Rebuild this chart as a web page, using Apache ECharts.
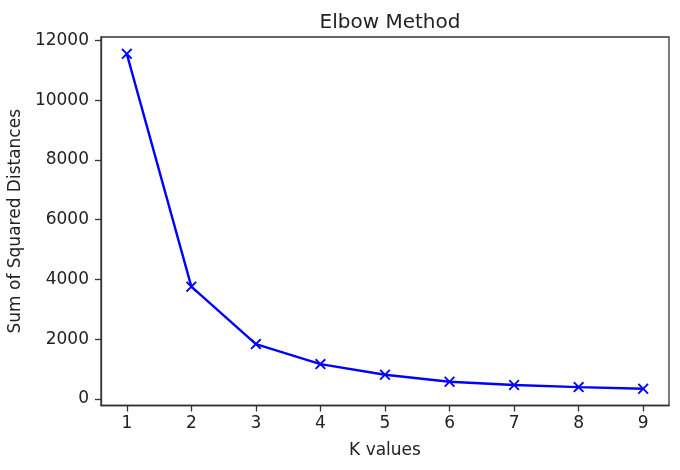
<!DOCTYPE html>
<html>
<head>
<meta charset="utf-8">
<script src="https://cdn.jsdelivr.net/npm/echarts@6/dist/echarts.min.js"></script>
<style>html,body{margin:0;padding:0;background:#fff}#c{width:680px;height:470px}</style>
</head>
<body>
<div id="c"></div>
<script>
var kValues = [1, 2, 3, 4, 5, 6, 7, 8, 9];
var sse = [11550, 3760, 1840, 1170, 812, 580, 470, 400, 345];
var xTicks = [1, 2, 3, 4, 5, 6, 7, 8, 9];
var yTicks = [0, 2000, 4000, 6000, 8000, 10000, 12000];

var chart = echarts.init(document.getElementById('c'), null, {renderer: 'canvas'});
var font = 'DejaVu Sans';
var xMark = 'path://M0,1.2L1.2,0L5,3.8L8.8,0L10,1.2L6.2,5L10,8.8L8.8,10L5,6.2L1.2,10L0,8.8L3.8,5Z';
chart.setOption({
  animation: false,
  backgroundColor: '#ffffff',
  title: {
    text: 'Elbow Method',
    left: 385, top: 8, textAlign: 'center',
    textStyle: {fontFamily: font, fontSize: 20, fontWeight: 'normal', color: '#222'}
  },
  grid: {
    left: 101, top: 37, right: 11, bottom: 64.5,
    containLabel: false, outerBoundsMode: 'none',
    show: true, borderColor: '#333', borderWidth: 1.3, backgroundColor: 'transparent'
  },
  xAxis: {
    type: 'value', min: 0.6, max: 9.4,
    name: 'K values', nameLocation: 'middle', nameGap: 37,
    nameTextStyle: {fontFamily: font, fontSize: 17, color: '#222'},
    axisLine: {show: true, onZero: false, lineStyle: {color: '#333', width: 1.3}},
    axisTick: {show: true, length: 6, lineStyle: {color: '#333', width: 1.3}, customValues: xTicks},
    axisLabel: {fontFamily: font, fontSize: 17, color: '#222', margin: 10, customValues: xTicks,
      formatter: function (v) { return String(v); }},
    splitLine: {show: false}
  },
  yAxis: {
    type: 'value', min: -215, max: 12114,
    name: 'Sum of Squared Distances', nameLocation: 'middle', nameGap: 71, nameRotate: 90,
    nameTextStyle: {fontFamily: font, fontSize: 17, color: '#222'},
    axisLine: {show: true, onZero: false, lineStyle: {color: '#333', width: 1.3}},
    axisTick: {show: true, length: 6, lineStyle: {color: '#333', width: 1.3}, customValues: yTicks},
    axisLabel: {fontFamily: font, fontSize: 17, color: '#222', margin: 12, customValues: yTicks,
      formatter: function (v) { return String(v); }},
    splitLine: {show: false}
  },
  series: [{
    type: 'line',
    data: kValues.map(function (k, i) { return [k, sse[i]]; }),
    lineStyle: {color: '#0000ff', width: 2.4},
    itemStyle: {color: '#0000ff'},
    symbol: xMark, symbolSize: 11, showSymbol: true,
    emphasis: {disabled: true}
  }]
});
</script>
</body>
</html>
